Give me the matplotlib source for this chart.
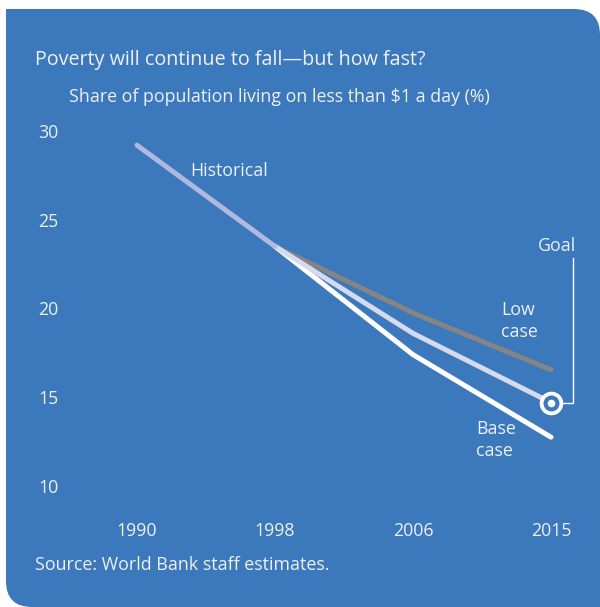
import matplotlib
matplotlib.use("Agg")
import matplotlib.pyplot as plt
from matplotlib.path import Path
from matplotlib.patches import PathPatch

# Data
years = ["1990", "1998", "2006", "2015"]
historical = [29.2, 23.5]
low_case = [23.5, 19.75, 16.55]
goal_path = [23.5, 18.6, 14.7]
base_case = [23.5, 17.4, 12.75]
goal_value = 14.7

BG = "#3b78bc"
TXT = "#eef0f8"
FONT = ["Open Sans", "DejaVu Sans"]

plt.rcParams["font.family"] = FONT

W, H = 600, 607
fig = plt.figure(figsize=(W / 100, H / 100), dpi=100)
fig.patch.set_facecolor("white")

# --- background panel: square top-left, rounded top-right and bottom-left ---
L, T, R, B, r = 6, 9, 600, 607, 26
pts = [
    ((L, T), Path.MOVETO),
    ((R - r, T), Path.LINETO),
    ((R, T), Path.CURVE3),
    ((R, T + r), Path.CURVE3),
    ((R, B), Path.LINETO),
    ((L + r, B), Path.LINETO),
    ((L, B), Path.CURVE3),
    ((L, B - r), Path.CURVE3),
    ((L, T), Path.CLOSEPOLY),
]
verts = [(x / W, 1 - y / H) for (x, y), _ in pts]
codes = [c for _, c in pts]
fig.patches.append(PathPatch(Path(verts, codes), facecolor=BG, edgecolor="none",
                             transform=fig.transFigure, zorder=-1))

# --- axes ---
ax = fig.add_axes([100 / W, (H - 500) / H, 480 / W, 380 / H])
ax.set_facecolor("none")
ax.set_xlim(-0.268, 3.21)
ax.set_ylim(9.21, 30.62)
for s in ax.spines.values():
    s.set_visible(False)

xs = list(range(len(years)))
lw = 3.6
ax.plot(xs[1:], low_case, color="#858585", lw=lw, solid_capstyle="round", zorder=3)
ax.plot(xs[1:], base_case, color="white", lw=lw, solid_capstyle="round", zorder=4)
ax.plot(xs[1:], goal_path, color="#d5daf0", lw=lw, solid_capstyle="round", zorder=5)
ax.plot(xs[:2], historical, color="#b0b8e0", lw=lw, solid_capstyle="round", zorder=6)

# goal marker (target symbol)
ax.plot([3], [goal_value], "o", ms=17, color="white", mec="none", zorder=8)
ax.plot([3], [goal_value], "o", ms=11.5, color=BG, mec="none", zorder=9)
ax.plot([3], [goal_value], "o", ms=5.5, color="white", mec="none", zorder=10)

# goal bracket
ax.plot([3.05, 3.16, 3.16], [goal_value, goal_value, 22.85], color="white",
        lw=1.0, zorder=7, solid_joinstyle="miter")

ax.set_xticks(xs)
ax.set_xticklabels(years)
ax.set_yticks([10, 15, 20, 25, 30])
ax.tick_params(axis="both", length=0, labelsize=12.8, labelcolor=TXT)
ax.tick_params(axis="x", pad=16)
ax.tick_params(axis="y", pad=30)

fs = 12.8
ax.text(0.384, 27.75, "Historical", color=TXT, fontsize=fs, va="center", ha="left")
ax.text(2.64, 19.3, "Low\ncase", color=TXT, fontsize=fs, va="center", ha="left",
        linespacing=1.25)
ax.text(2.46, 12.6, "Base\ncase", color=TXT, fontsize=fs, va="center", ha="left",
        linespacing=1.25)
ax.text(3.185, 23.5, "Goal", color=TXT, fontsize=fs, va="center", ha="right")

fig.text(35 / W, 1 - 60 / H, "Poverty will continue to fall\u2014but how fast?",
         color=TXT, fontsize=14.2, va="center", ha="left")
fig.text(69 / W, 1 - 97 / H, "Share of population living on less than $1 a day (%)",
         color=TXT, fontsize=12.8, va="center", ha="left")
fig.text(35 / W, 1 - 565 / H, "Source: World Bank staff estimates.",
         color=TXT, fontsize=12.9, va="center", ha="left")

fig.savefig("out.png", dpi=100, facecolor=fig.get_facecolor())
